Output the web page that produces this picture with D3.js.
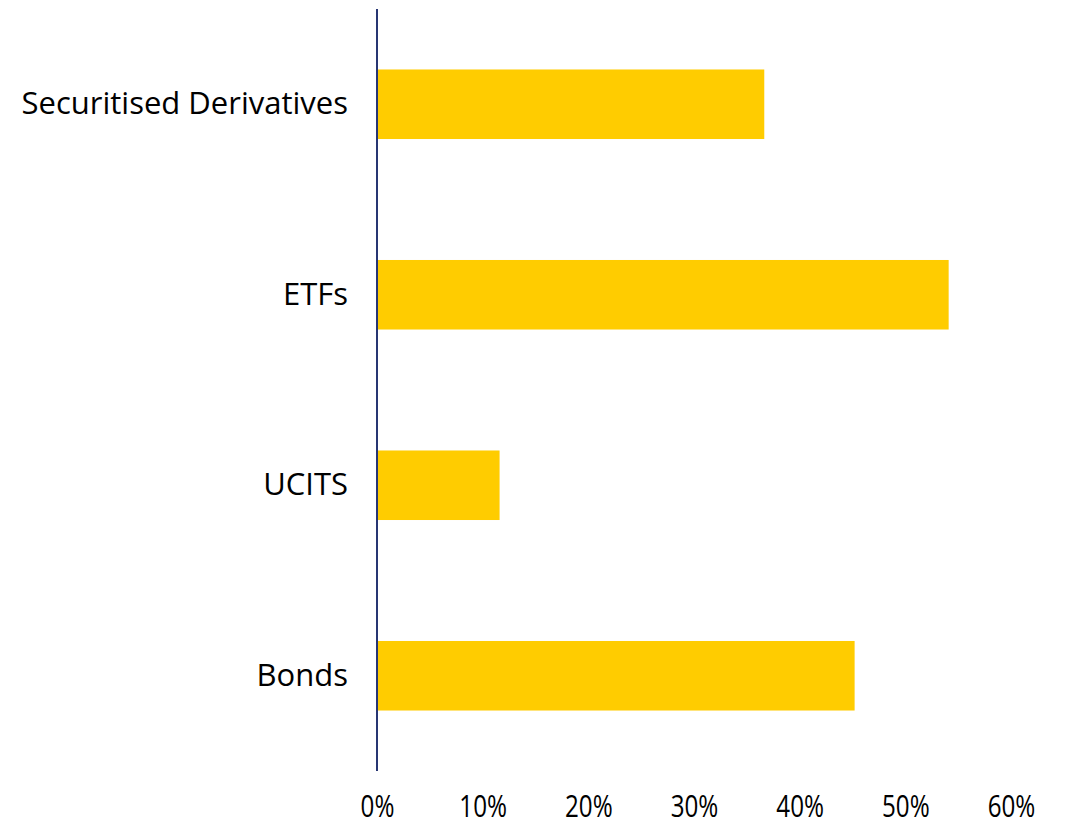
<!DOCTYPE html>
<html>
<head>
<meta charset="utf-8">
<script src="https://cdn.jsdelivr.net/npm/d3@7"></script>
<style>
  html, body { margin: 0; padding: 0; background: #ffffff; }
  svg { display: block; }
</style>
</head>
<body>
<svg id="chart" width="1068" height="828"></svg>
<script>
const categories = ["Securitised Derivatives", "ETFs", "UCITS", "Bonds"];
const values = [0.3665, 0.541, 0.116, 0.452];
const tickValues = [0, 0.1, 0.2, 0.3, 0.4, 0.5, 0.6];

const svg = d3.select("#chart");
const x = d3.scaleLinear().domain([0, 0.6]).range([377, 1011]);
const y = d3.scaleBand().domain(categories).range([9, 771]).paddingInner(0.635).paddingOuter(0.3175);

// bars
svg.append("g").selectAll("rect")
  .data(categories)
  .join("rect")
  .attr("x", x(0))
  .attr("y", d => y(d))
  .attr("width", (d, i) => x(values[i]) - x(0))
  .attr("height", y.bandwidth())
  .attr("fill", "#FFCC00");

// vertical axis line
svg.append("line")
  .attr("x1", x(0)).attr("x2", x(0))
  .attr("y1", 9).attr("y2", 771)
  .attr("stroke", "#283673")
  .attr("stroke-width", 2);

// category labels
const yAxis = svg.append("g")
  .attr("transform", `translate(${x(0)},0)`)
  .call(d3.axisLeft(y).tickSize(0).tickPadding(29));
yAxis.select(".domain").remove();
yAxis.selectAll("text")
  .attr("dy", "0.33em")
  .style("font-family", "'Open Sans', sans-serif")
  .style("font-size", "31px")
  .attr("fill", "#000");

// x tick labels
const xAxis = svg.append("g")
  .attr("transform", "translate(0,771)")
  .call(d3.axisBottom(x).tickValues(tickValues).tickFormat(d3.format(".0%")).tickSize(0));
xAxis.select(".domain").remove();
xAxis.selectAll("text")
  .attr("y", 46)
  .attr("dy", null)
  .attr("transform", "scale(0.78,1)")
  .style("font-family", "'Open Sans', sans-serif")
  .style("font-size", "31px")
  .attr("fill", "#000");
</script>
</body>
</html>
